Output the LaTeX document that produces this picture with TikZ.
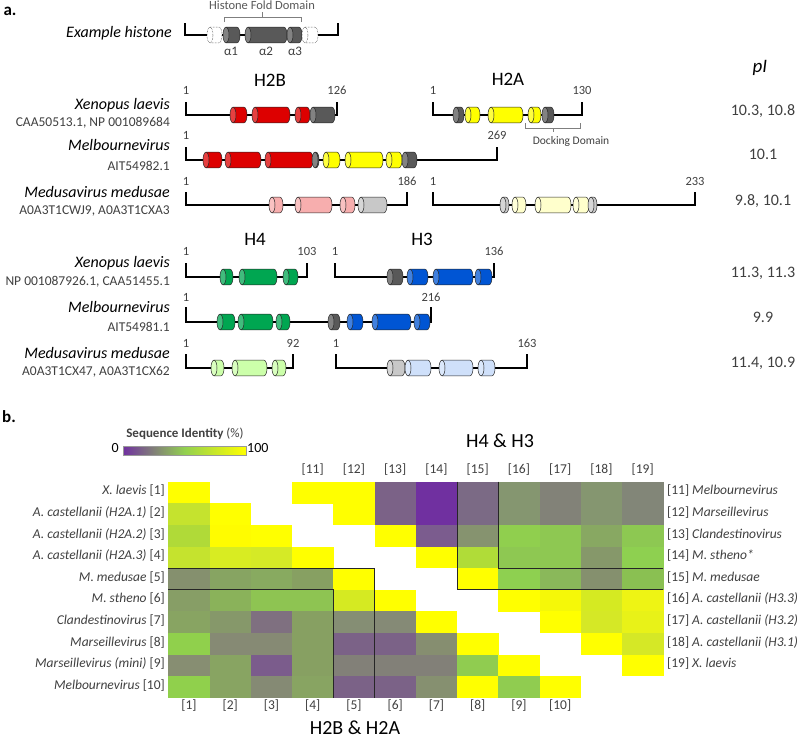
\documentclass[tikz,border=0pt]{standalone}
\usepackage{fontspec}
\setmainfont{Carlito}
\definecolor{hred}{HTML}{DD0000}
\definecolor{hdark}{HTML}{595959}
\definecolor{hyel}{HTML}{FFFF00}
\definecolor{hpink}{HTML}{F7AEAE}
\definecolor{hlgray}{HTML}{C8C8C8}
\definecolor{hcream}{HTML}{FFFFCC}
\definecolor{hgreen}{HTML}{00A651}
\definecolor{hblue}{HTML}{0055D4}
\definecolor{hlgreen}{HTML}{CCFFAA}
\definecolor{hlblue}{HTML}{CFE0FA}
\definecolor{txt}{HTML}{404040}
\definecolor{brk}{HTML}{7F7F7F}
\definecolor{cbpurple}{HTML}{7030A0}
\definecolor{cbgreen}{HTML}{92D050}
\newcommand{\cyl}[5][solid]{%
  \draw[cylout,#1,fill=#5] ({#2+3},{#4-7.8}) -- ({#3-3},{#4-7.8}) arc[start angle=-90,end angle=90,x radius=3,y radius=7.8] -- ({#2+3},{#4+7.8}) -- cycle;
  \draw[cylout,#1,fill=#5!75!white] ({#2+3},#4) ellipse[x radius=3,y radius=7.8];}
\newcommand{\hrow}[4]{\draw[bk] (#1,#4) -- (#1,#3) -- (#2,#3) -- (#2,#4);}
\newcommand{\hm}[3]{\definecolor{cc}{HTML}{#3}\fill[cc] ({168.3+#1*41.25},{481.7+#2*21.6}) rectangle ++(41.6,21.9);}
\tikzset{
  cylout/.style={draw=black!85,line width=0.5pt},
  bk/.style={line width=2.4pt,black},
  gbr/.style={line width=0.8pt,brk},
  sp/.style={anchor=mid east,inner sep=0,font=\fontsize{16}{18}\selectfont\itshape},
  acc/.style={anchor=mid east,inner sep=0,text=txt,font=\fontsize{13.5}{15}\selectfont},
  num/.style={anchor=mid,inner sep=0,text=txt,font=\fontsize{12.5}{14}\selectfont},
  ttl/.style={anchor=mid,inner sep=0,font=\fontsize{19}{21}\selectfont},
  piv/.style={anchor=mid,inner sep=0,text=txt,font=\fontsize{16}{18}\selectfont},
  rl/.style={anchor=mid east,inner sep=0,text=txt,font=\fontsize{13.5}{15}\selectfont},
  rr/.style={anchor=mid west,inner sep=0,text=txt,font=\fontsize{13.5}{15}\selectfont},
  cl/.style={anchor=mid,inner sep=0,text=txt,font=\fontsize{13.5}{15}\selectfont},
  hline/.style={line width=1.1pt,black!85},
}
\begin{document}
\begin{tikzpicture}[x=1pt,y=-1pt]
\fill[white] (0,0) rectangle (798,742);
\useasboundingbox (0,0) rectangle (798,742);
% ---------------- panel a ----------------
\node[anchor=mid,inner sep=0,font=\fontsize{17}{19}\selectfont\bfseries] (la) at (10,13) {a.};
\node[sp] (exh) at (172,35) {Example histone};
\node[anchor=mid,inner sep=0,font=\fontsize{19}{21}\selectfont\itshape] (pI) at (760,70) {pI};
% example histone
\hrow{185}{338}{35}{23}
\cyl[densely dotted]{207}{222}{35}{white}
\cyl{223}{240}{35}{hdark}
\cyl{245}{287}{35}{hdark}
\cyl{287}{302}{35}{hdark}
\cyl[densely dotted]{302}{318}{35}{white}
\draw[gbr] (224,22) -- (224,17) -- (301,17) -- (301,22);
\draw[gbr] (262,17) -- (262,12);
\node[anchor=mid,inner sep=0,text=black!65,font=\fontsize{12.5}{14}\selectfont] (hfd) at (262,7.5) {Histone Fold Domain};
\node[num,font=\fontsize{13}{15}\selectfont] (a1) at (231,53) {α1};
\node[num,font=\fontsize{13}{15}\selectfont] (a2) at (266,53) {α2};
\node[num,font=\fontsize{13}{15}\selectfont] (a3) at (295,53) {α3};
% titles
\node[ttl] (tH2B) at (270,84) {H2B};
\node[ttl] (tH2A) at (508,83) {H2A};
\node[ttl] (tH4) at (255,243) {H4};
\node[ttl] (tH3) at (422,243) {H3};
% species labels
\node[sp] (s1) at (170,107) {Xenopus laevis};
\node[acc] (c1) at (170,124) {CAA50513.1, NP 001089684};
\node[sp] (s2) at (170,148) {Melbournevirus};
\node[acc] (c2) at (170,168) {AIT54982.1};
\node[sp] (s3) at (170,195) {Medusavirus medusae};
\node[acc] (c3) at (170,212) {A0A3T1CWJ9, A0A3T1CXA3};
\node[sp] (s4) at (170,265) {Xenopus laevis};
\node[acc] (c4) at (170,283) {NP 001087926.1, CAA51455.1};
\node[sp] (s5) at (170,310) {Melbournevirus};
\node[acc] (c5) at (170,329) {AIT54981.1};
\node[sp] (s6) at (170,356) {Medusavirus medusae};
\node[acc] (c6) at (170,373) {A0A3T1CX47, A0A3T1CX62};
% pI values
\node[piv] (p1) at (763,113) {10.3, 10.8};
\node[piv] (p2) at (763,157) {10.1};
\node[piv] (p3) at (763,203) {9.8, 10.1};
\node[piv] (p4) at (763,275) {11.3, 11.3};
\node[piv] (p5) at (763,320) {9.9};
\node[piv] (p6) at (763,365) {11.4, 10.9};
% row A1 Xenopus H2B / H2A
\hrow{186}{337}{115}{102}
\cyl{230}{247}{115}{hred}
\cyl{252}{290}{115}{hred}
\cyl{295}{310}{115}{hred}
\cyl{310}{335}{115}{hdark}
\hrow{433}{582}{115}{102}
\cyl{453}{464}{115}{hdark}
\cyl{465}{480}{115}{hyel}
\cyl{488}{523}{115}{hyel}
\cyl{528}{541}{115}{hyel}
\cyl{542}{554}{115}{hdark}
\node[num] (n1a) at (186,92) {1};
\node[num] (n1b) at (337,92) {126};
\node[num] (n1c) at (433,92) {1};
\node[num] (n1d) at (582,92) {130};
\draw[gbr] (525,123) -- (525,128) -- (580,128) -- (580,123);
\draw[gbr] (553,128) -- (553,132);
\node[num,font=\fontsize{11.5}{13}\selectfont] (dock) at (571,142) {Docking Domain};
% row A2 Melbournevirus H2B-H2A
\hrow{186}{497}{160}{147}
\cyl{203}{222}{160}{hred}
\cyl{225}{261}{160}{hred}
\cyl{265}{313}{160}{hred}
\cyl{312}{319}{160}{hdark}
\cyl{323}{340}{160}{hyel}
\cyl{345}{383}{160}{hyel}
\cyl{386}{402}{160}{hyel}
\cyl{402}{417}{160}{hdark}
\node[num] (n2a) at (186,137) {1};
\node[num] (n2b) at (497,137) {269};
% row A3 Medusavirus
\hrow{186}{407}{205}{192}
\cyl{269}{283}{205}{hpink}
\cyl{295}{332}{205}{hpink}
\cyl{340}{355}{205}{hpink}
\cyl{358}{387}{205}{hlgray}
\hrow{433}{695}{205}{192}
\cyl{500}{509}{205}{hlgray}
\cyl{512}{526}{205}{hcream}
\cyl{535}{571}{205}{hcream}
\cyl{573}{589}{205}{hcream}
\cyl{588}{597}{205}{hlgray}
\node[num] (n3a) at (186,183) {1};
\node[num] (n3b) at (407,183) {186};
\node[num] (n3c) at (433,183) {1};
\node[num] (n3d) at (695,183) {233};
% row B1 Xenopus H4 / H3
\hrow{186}{307}{277}{263}
\cyl{220}{233}{277}{hgreen}
\cyl{239}{277}{277}{hgreen}
\cyl{283}{298}{277}{hgreen}
\hrow{335}{494}{277}{263}
\cyl{387}{403}{277}{hdark}
\cyl{407}{428}{277}{hblue}
\cyl{433}{473}{277}{hblue}
\cyl{475}{492}{277}{hblue}
\node[num] (n4a) at (186,253) {1};
\node[num] (n4b) at (307,253) {103};
\node[num] (n4c) at (335,253) {1};
\node[num] (n4d) at (494,253) {136};
% row B2 Melbournevirus H4-H3
\hrow{186}{431}{322}{307}
\cyl{217}{235}{322}{hgreen}
\cyl{238}{273}{322}{hgreen}
\cyl{276}{290}{322}{hgreen}
\cyl{328}{340}{322}{hdark}
\cyl{347}{363}{322}{hblue}
\cyl{372}{411}{322}{hblue}
\cyl{414}{430}{322}{hblue}
\node[num] (n5a) at (186,299) {1};
\node[num] (n5b) at (431,299) {216};
% row B3 Medusavirus H4 / H3
\hrow{186}{293}{368}{354}
\cyl{211}{224}{368}{hlgreen}
\cyl{232}{267}{368}{hlgreen}
\cyl{272}{286}{368}{hlgreen}
\hrow{336}{527}{368}{354}
\cyl{387}{405}{368}{hlgray}
\cyl{405}{431}{368}{hlblue}
\cyl{439}{473}{368}{hlblue}
\cyl{478}{495}{368}{hlblue}
\node[num] (n6a) at (186,345) {1};
\node[num] (n6b) at (293,345) {92};
\node[num] (n6c) at (336,345) {1};
\node[num] (n6d) at (527,345) {163};
% ---------------- panel b ----------------
\node[anchor=mid,inner sep=0,font=\fontsize{17}{19}\selectfont\bfseries] (lb) at (9,420) {b.};
\node[anchor=mid,inner sep=0,text=txt,font=\fontsize{13}{15}\selectfont] (cbt) at (185,435) {\textbf{Sequence Identity} (\%)};
\shade[left color=cbpurple,right color=hyel,middle color=cbgreen] (123,446) rectangle (246,455);
\draw[black!40,line width=0.6pt] (123,446) rectangle (246,455);
\node[anchor=mid east,inner sep=0,font=\fontsize{14}{16}\selectfont] (cb0) at (119,450) {0};
\node[anchor=mid west,inner sep=0,font=\fontsize{14}{16}\selectfont] (cb100) at (247,450) {100};
\node[ttl,font=\fontsize{20}{22}\selectfont] (tH4H3) at (500,445) {H4 \& H3};
\node[ttl,font=\fontsize{20}{22}\selectfont] (tH2) at (355,732) {H2B \& H2A};
% heatmap cells
\hm{0}{0}{FFFF00}\hm{3}{0}{FFFF00}\hm{4}{0}{FFFF00}\hm{5}{0}{7B6287}\hm{6}{0}{7030A0}\hm{7}{0}{7B6A85}\hm{8}{0}{859670}\hm{9}{0}{828278}\hm{10}{0}{859670}\hm{11}{0}{828678}
\hm{0}{1}{C5E32E}\hm{1}{1}{FFFF00}\hm{4}{1}{FFFF00}\hm{5}{1}{7B6287}\hm{6}{1}{7030A0}\hm{7}{1}{7B6A85}\hm{8}{1}{859670}\hm{9}{1}{828278}\hm{10}{1}{859670}\hm{11}{1}{828678}
\hm{0}{2}{B0DA38}\hm{1}{2}{FFFC00}\hm{2}{2}{FFFF00}\hm{5}{2}{FFFF00}\hm{6}{2}{7B5C8E}\hm{7}{2}{86936F}\hm{8}{2}{90CF4E}\hm{9}{2}{8EC852}\hm{10}{2}{88A862}\hm{11}{2}{8DC852}
\hm{0}{3}{C5E32E}\hm{1}{3}{D8EC22}\hm{2}{3}{D5EA26}\hm{3}{3}{FFFF00}\hm{6}{3}{FFFF00}\hm{7}{3}{B0DC38}\hm{8}{3}{8EC852}\hm{9}{3}{8EC852}\hm{10}{3}{86986A}\hm{11}{3}{8ED050}
\hm{0}{4}{85906E}\hm{1}{4}{87A462}\hm{2}{4}{88AA60}\hm{3}{4}{87A062}\hm{4}{4}{FFFF00}\hm{7}{4}{FFFF00}\hm{8}{4}{8ED050}\hm{9}{4}{8AB85A}\hm{10}{4}{85906E}\hm{11}{4}{8AC052}
\hm{0}{5}{879E66}\hm{1}{5}{8AB25A}\hm{2}{5}{8EC452}\hm{3}{5}{8EC452}\hm{4}{5}{D5EA22}\hm{5}{5}{FFFF00}\hm{8}{5}{FFFF00}\hm{9}{5}{F5F808}\hm{10}{5}{D5EA22}\hm{11}{5}{EEF414}
\hm{0}{6}{88A462}\hm{1}{6}{86986A}\hm{2}{6}{7F7080}\hm{3}{6}{87A062}\hm{4}{6}{858E74}\hm{5}{6}{858A76}\hm{6}{6}{FFFF00}\hm{9}{6}{FFFF00}\hm{10}{6}{D5E826}\hm{11}{6}{E8F218}
\hm{0}{7}{90D04C}\hm{1}{7}{868A74}\hm{2}{7}{868A74}\hm{3}{7}{87A062}\hm{4}{7}{7B6287}\hm{5}{7}{7B6287}\hm{6}{7}{868E70}\hm{7}{7}{FFFF00}\hm{10}{7}{FFFF00}\hm{11}{7}{D5E826}
\hm{0}{8}{878E72}\hm{1}{8}{88A462}\hm{2}{8}{7B5C8C}\hm{3}{8}{87A062}\hm{4}{8}{828078}\hm{5}{8}{828078}\hm{6}{8}{828078}\hm{7}{8}{90CC50}\hm{8}{8}{FFFF00}\hm{11}{8}{FFFF00}
\hm{0}{9}{90D04C}\hm{1}{9}{88A462}\hm{2}{9}{858A74}\hm{3}{9}{88A462}\hm{4}{9}{7B6287}\hm{5}{9}{7B6287}\hm{6}{9}{869070}\hm{7}{9}{FFFF00}\hm{8}{9}{90CC50}\hm{9}{9}{FFFF00}
% outlines
\draw[hline] (168.3,568.1) -- (374.55,568.1) -- (374.55,697.7);
\draw[hline] (168.3,589.7) -- (333.3,589.7) -- (333.3,697.7);
\draw[hline] (457.05,481.7) -- (457.05,589.7) -- (663.3,589.7);
\draw[hline] (498.3,481.7) -- (498.3,568.1) -- (663.3,568.1);
% row labels left
\node[rl] (r1) at (165,492.5) {\textit{X. laevis} [1]};
\node[rl] (r2) at (165,514.1) {\textit{A. castellanii (H2A.1)} [2]};
\node[rl] (r3) at (165,535.7) {\textit{A. castellanii (H2A.2)} [3]};
\node[rl] (r4) at (165,557.3) {\textit{A. castellanii (H2A.3)} [4]};
\node[rl] (r5) at (165,578.9) {\textit{M. medusae} [5]};
\node[rl] (r6) at (165,600.5) {\textit{M. stheno} [6]};
\node[rl] (r7) at (165,622.1) {\textit{Clandestinovirus} [7]};
\node[rl] (r8) at (165,643.7) {\textit{Marseillevirus} [8]};
\node[rl] (r9) at (165,665.3) {\textit{Marseillevirus (mini)} [9]};
\node[rl] (r10) at (165,686.9) {\textit{Melbournevirus} [10]};
% row labels right
\node[rr] (q11) at (667,492.5) {[11] \textit{Melbournevirus}};
\node[rr] (q12) at (667,514.1) {[12] \textit{Marseillevirus}};
\node[rr] (q13) at (667,535.7) {[13] \textit{Clandestinovirus}};
\node[rr] (q14) at (667,557.3) {[14] \textit{M. stheno*}};
\node[rr] (q15) at (667,578.9) {[15] \textit{M. medusae}};
\node[rr] (q16) at (667,600.5) {[16] \textit{A. castellanii (H3.3)}};
\node[rr] (q17) at (667,622.1) {[17] \textit{A. castellanii (H3.2)}};
\node[rr] (q18) at (667,643.7) {[18] \textit{A. castellanii (H3.1)}};
\node[rr] (q19) at (667,665.3) {[19] \textit{X. laevis}};
% column labels
\foreach \i in {1,...,10} {\node[cl] (b\i) at ({168.3+(\i-0.5)*41.25},707) {[\i]};}
\foreach \i in {11,...,19} {\node[cl] (t\i) at ({168.3+(\i-7.5)*41.25},471) {[\i]};}
\end{tikzpicture}
\end{document}
